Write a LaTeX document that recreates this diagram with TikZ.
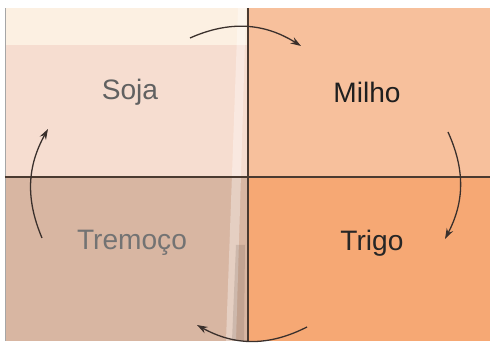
\documentclass[tikz,border=0pt]{standalone}
\usepackage{fontspec}
\setmainfont{Liberation Sans}
\usetikzlibrary{arrows.meta}
\definecolor{sojacol}{HTML}{F6DDD0}
\definecolor{stripcol}{HTML}{FCF0E2}
\definecolor{milhocol}{HTML}{F7C09C}
\definecolor{tremocol}{HTML}{D8B6A2}
\definecolor{trigocol}{HTML}{F6A874}
\definecolor{linecol}{HTML}{4A3A30}
\definecolor{arrowcol}{HTML}{3A302C}
\tikzset{
  crop/.style={font=\fontsize{24}{28}\selectfont},
  cycle/.style={arrowcol,line width=1.1pt,-{Stealth[length=9pt,width=6pt]}}
}
\begin{document}
\begin{tikzpicture}[x=0.03cm,y=0.03cm]
		\useasboundingbox (0,0) rectangle (490,345);
		\fill[white] (0,0) rectangle (490,345);
		% quadrants
		\fill[sojacol] (5,168) rectangle (248,337);
		\fill[stripcol] (5,300) rectangle (248,337);
		\fill[milhocol] (248,168) rectangle (490,337);
		\fill[tremocol] (5,4) rectangle (248,168);
		\fill[trigocol] (248,4) rectangle (490,168);
		% fold
		\fill[white,opacity=0.35] (238,337) -- (246,337) -- (236,4) -- (226,4) -- cycle;
		\fill[linecol,opacity=0.15] (236,100) -- (245,100) -- (244,4) -- (232,4) -- cycle;
		\draw[gray!70,line width=0.8pt] (5,4) -- (5,337);
		
		\draw[linecol,line width=1.2pt] (5,168) -- (490,168);
		\draw[linecol,line width=1.2pt] (248,4) -- (248,337);
		
		\node[crop,text=black!62] (soja) at (130,253) {Soja};
		\node[crop,text=black!88] (milho) at (367,253) {Milho};
		\node[crop,text=black!55] (tremoco) at (132,102) {Tremoço};
		\node[crop,text=black!85] (trigo) at (372,102) {Trigo};
		
		% cycle arrows
		\coordinate (t1) at (190,307);
		\coordinate (t2) at (301,299);
		\coordinate (r1) at (448,213);
		\coordinate (r2) at (445,106);
		\coordinate (b1) at (307,18);
		\coordinate (b2) at (197,20);
		\coordinate (l1) at (42,107);
		\coordinate (l2) at (48,216);
		\draw[cycle] (t1) to[bend left=28] (t2);
		\draw[cycle] (r1) to[bend left=26] (r2);
		\draw[cycle] (b1) to[bend left=28] (b2);
		\draw[cycle] (l1) to[bend left=26] (l2);
\end{tikzpicture}
\end{document}
